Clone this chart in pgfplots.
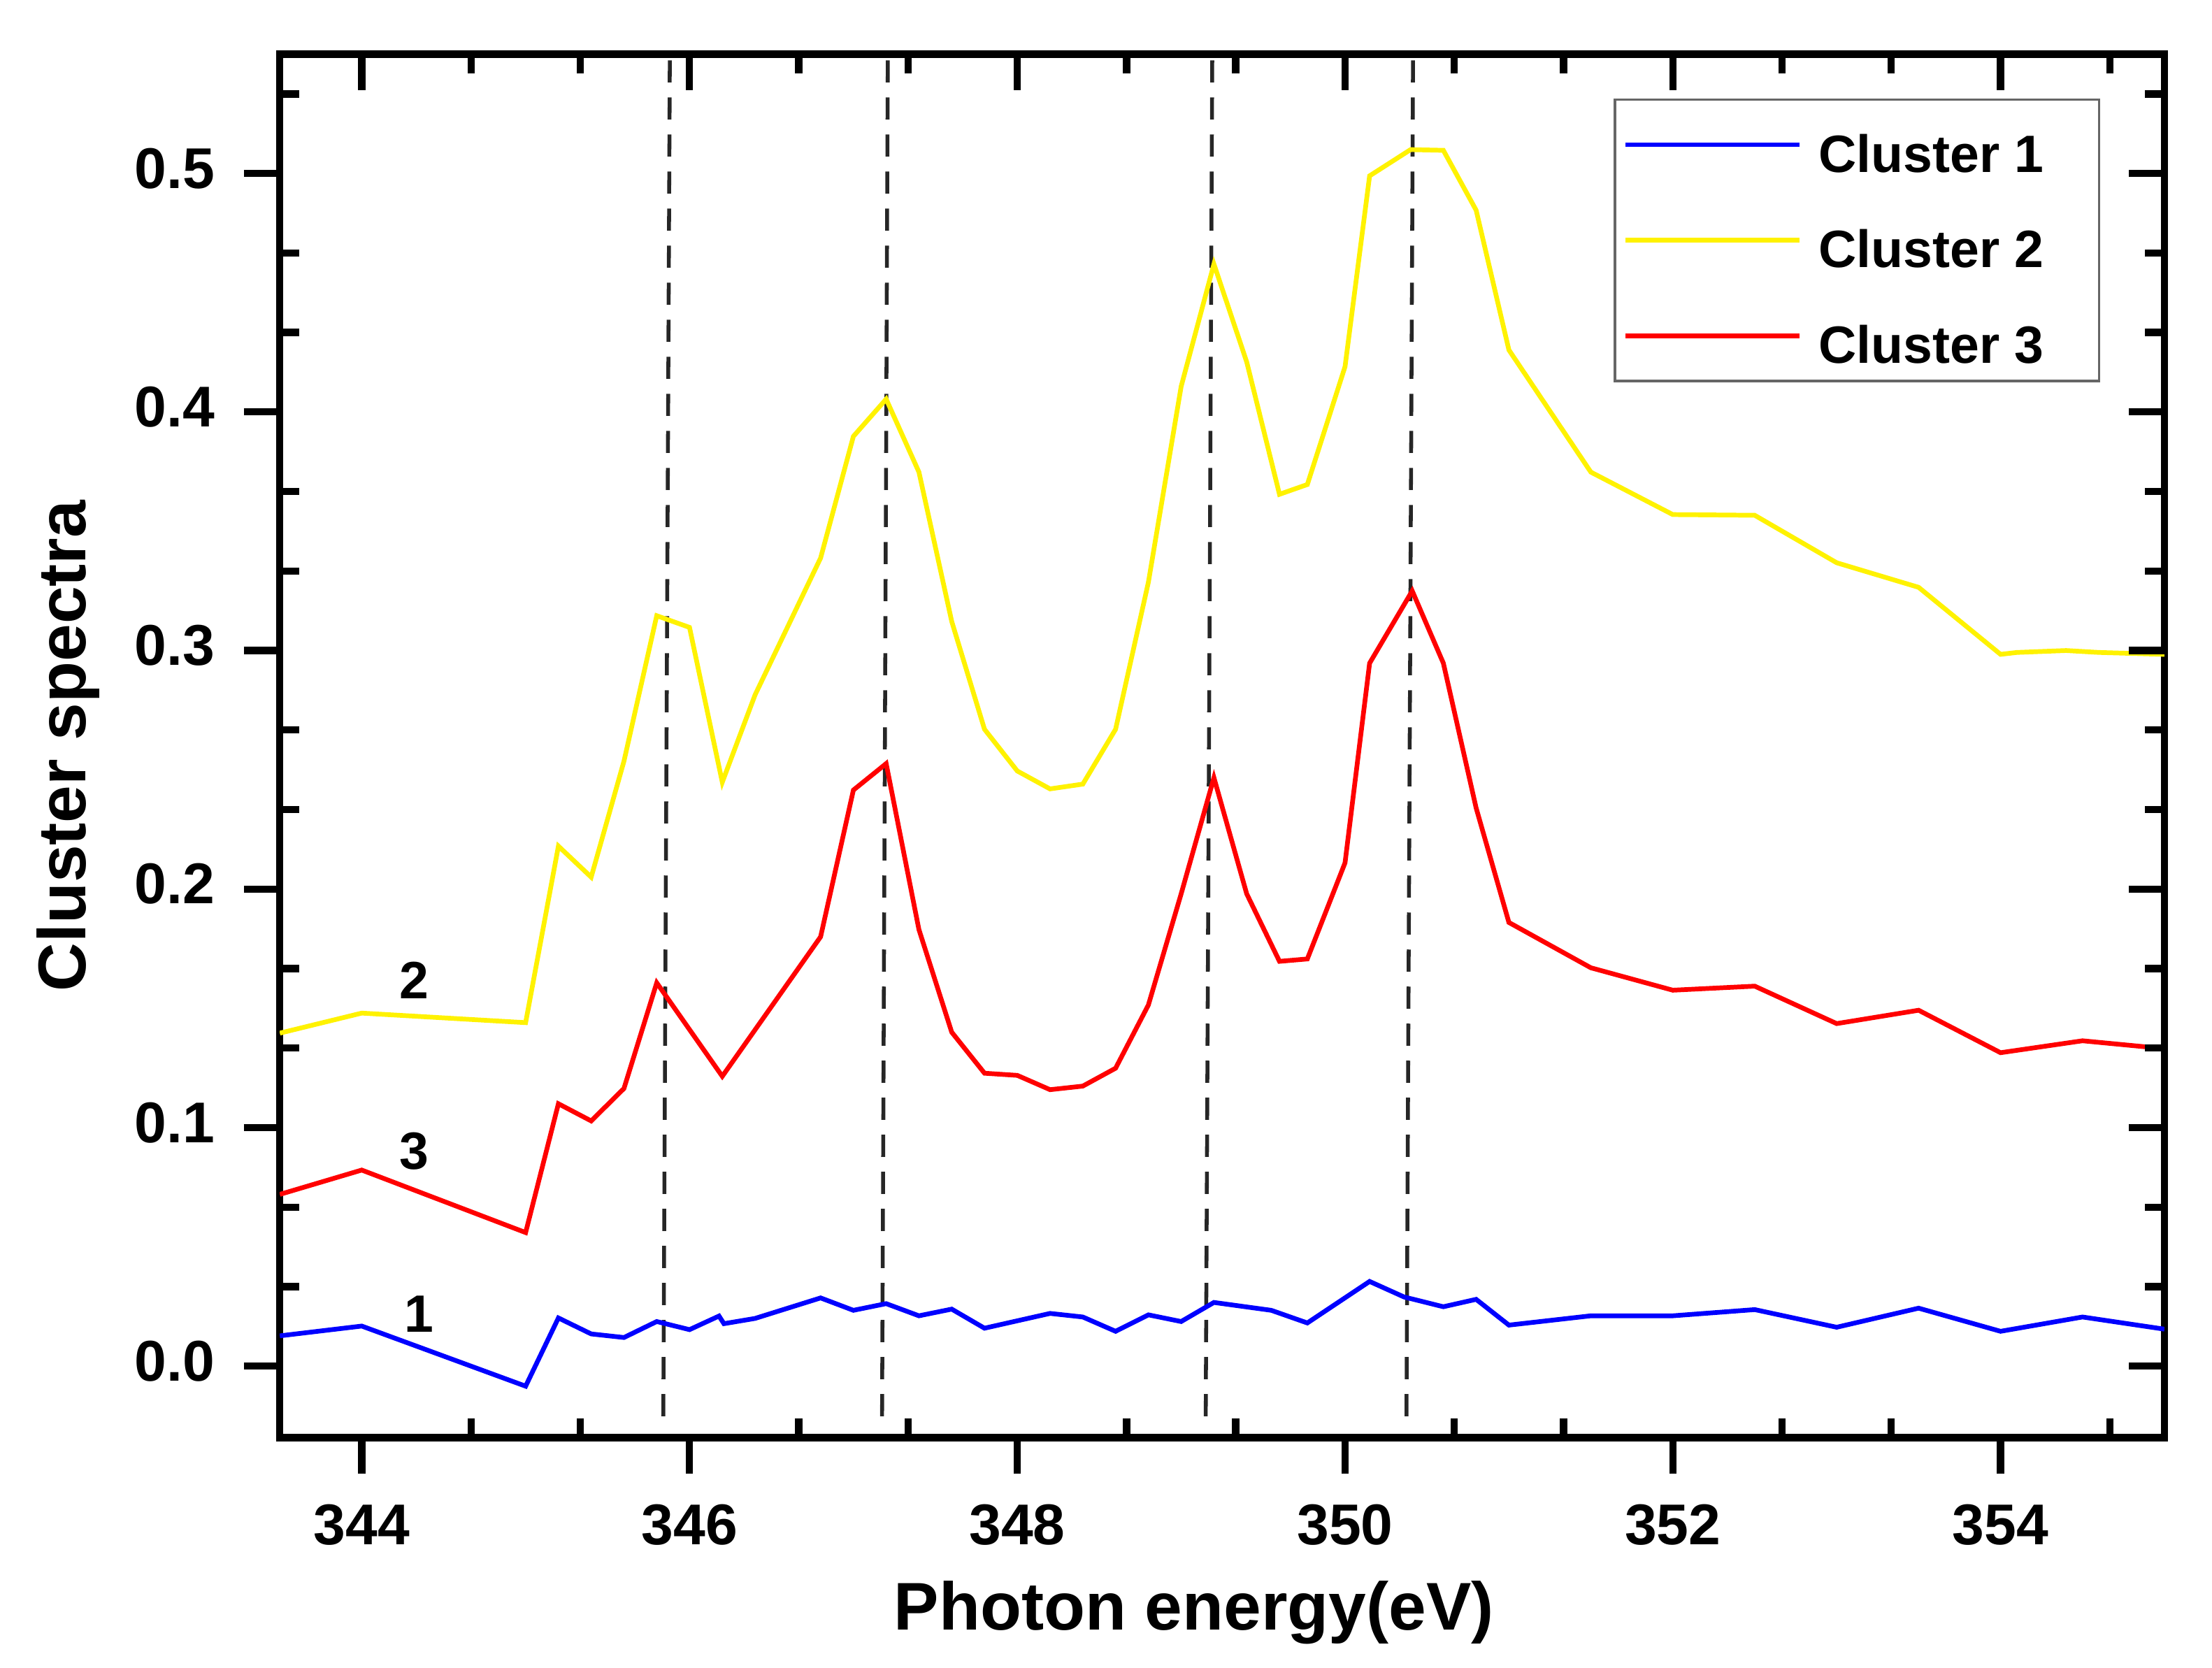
\documentclass[border=0pt]{standalone}
\usepackage{fontspec}
\setmainfont{Liberation Sans}
\usepackage{pgfplots}
\pgfplotsset{compat=1.18}

\pgfplotstableread{
x y
343.5 0.0127
344.0 0.0168
345.0 -0.0084
345.2 0.0202
345.4 0.0135
345.6 0.0120
345.8 0.0187
346.0 0.0153
346.18 0.0210
346.21 0.0178
346.4 0.0200
346.8 0.0286
347.0 0.0234
347.2 0.0262
347.4 0.0211
347.6 0.0239
347.8 0.0159
348.2 0.0221
348.4 0.0206
348.6 0.0146
348.8 0.0215
349.0 0.0187
349.2 0.0267
349.55 0.0234
349.77 0.0181
350.15 0.0355
350.36 0.0290
350.6 0.0249
350.8 0.0280
351.0 0.0172
351.5 0.0211
352.0 0.0211
352.5 0.0237
353.0 0.0163
353.5 0.0243
354.0 0.0146
354.5 0.0206
355.0 0.0155
}\clusterone

\pgfplotstableread{
x y
343.5 0.1396
344.0 0.1480
345.0 0.1440
345.2 0.2180
345.4 0.2050
345.6 0.2536
345.8 0.3146
346.0 0.3097
346.2 0.2448
346.4 0.2814
346.8 0.3388
347.0 0.3898
347.2 0.4054
347.4 0.3748
347.6 0.3122
347.8 0.2670
348.0 0.2495
348.2 0.2420
348.4 0.2440
348.6 0.2670
348.8 0.3286
349.0 0.4107
349.2 0.4620
349.4 0.4210
349.6 0.3655
349.77 0.3696
350.0 0.4190
350.15 0.4990
350.4 0.5100
350.6 0.5097
350.8 0.4846
351.0 0.4260
351.5 0.3748
352.0 0.3570
352.5 0.3567
353.0 0.3368
353.5 0.3265
354.0 0.2984
354.1 0.2992
354.4 0.3000
354.6 0.2992
355.0 0.2984
}\clustertwo

\pgfplotstableread{
x y
343.5 0.0720
344.0 0.0822
345.0 0.0560
345.2 0.1100
345.4 0.1028
345.6 0.1164
345.8 0.1607
346.2 0.1215
346.8 0.1800
347.0 0.2415
347.2 0.2526
347.4 0.1830
347.6 0.1400
347.8 0.1228
348.0 0.1219
348.2 0.1159
348.4 0.1174
348.6 0.1249
348.8 0.1514
349.0 0.1980
349.2 0.2467
349.4 0.1980
349.6 0.1697
349.77 0.1707
350.0 0.2110
350.15 0.2947
350.41 0.3250
350.6 0.2947
350.8 0.2340
351.0 0.1860
351.5 0.1670
352.0 0.1576
352.5 0.1593
353.0 0.1436
353.5 0.1492
354.0 0.1314
354.5 0.1364
355.0 0.1331
}\clusterthree

\pgfplotsset{
  base/.style={
    scale only axis, width=340.8pt, height=250.2pt,
    at={(0,0)}, anchor=south west,
    xmin=343.5, xmax=355, ymin=-0.03, ymax=0.55,
    xtick={344,346,348,350,352,354},
    ytick={0,0.1,0.2,0.3,0.4,0.5},
    minor xtick={344.6667,345.3333,346.6667,347.3333,348.6667,349.3333,350.6667,351.3333,352.6667,353.3333,354.6667},
    minor ytick={0.03333,0.06667,0.13333,0.16667,0.23333,0.26667,0.33333,0.36667,0.43333,0.46667,0.53333},
    axis line style={line width=1.3pt},
    tick style={line width=1.3pt, black},
  },
  overlay/.style={base, xticklabels={}, yticklabels={}, axis line style={draw=none}},
}

\begin{document}
\begin{tikzpicture}
\useasboundingbox (-50.6pt,-41.6pt) rectangle (349.4pt,260.0pt);
\begin{axis}[base,
  tick pos=left, tick align=inside,
  major tick length=0pt, minor tick length=3.5pt,
  tick label style={font=\fontsize{10.4}{12}\selectfont\bfseries},
  /pgf/number format/assume math mode=true,
  xticklabel style={anchor=base, inner sep=0pt, yshift=-19.3pt},
  yticklabel style={anchor=east, inner sep=0pt, xshift=-11.6pt, yshift=0.9pt,
    /pgf/number format/fixed, /pgf/number format/fixed zerofill, /pgf/number format/precision=1},
  xlabel={Photon energy(eV)},
  ylabel={Cluster spectra},
  xlabel style={font=\fontsize{12.2}{14}\selectfont\bfseries, at={(axis description cs:0.485,-0.1391)}, anchor=base},
  ylabel style={font=\fontsize{12.2}{14}\selectfont\bfseries, at={(axis description cs:-0.103,0.5)}, anchor=base, rotate=0},
  legend style={at={(axis description cs:0.9658,0.968)}, anchor=north east,
    draw=black!60, line width=0.4pt, fill=white,
    inner xsep=1.5pt, inner ysep=3.2pt, row sep=7.4pt, column sep=3pt,
    font=\fontsize{9.5}{11}\selectfont\bfseries,
    nodes={inner sep=0pt, text height=9.9pt, text depth=0pt}},
  legend cell align=left,
  legend image code/.code={\draw[#1] (0pt,0pt) -- (31.5pt,0pt);},
]
\addplot[black!85, line width=0.7pt, dash pattern=on 4pt off 2.7pt, forget plot] coordinates {(345.84,-0.021) (345.88,0.55)};
\addplot[black!85, line width=0.7pt, dash pattern=on 4pt off 2.7pt, forget plot] coordinates {(347.175,-0.021) (347.21,0.55)};
\addplot[black!85, line width=0.7pt, dash pattern=on 4pt off 2.7pt, forget plot] coordinates {(349.15,-0.021) (349.19,0.55)};
\addplot[black!85, line width=0.7pt, dash pattern=on 4pt off 2.7pt, forget plot] coordinates {(350.375,-0.021) (350.415,0.55)};

\addplot[blue, line width=0.85pt, mark=none] table[x=x,y=y] {\clusterone};
\addlegendentry{Cluster 1\hspace*{8.5pt}}
\addplot[yellow, line width=0.85pt, mark=none] table[x=x,y=y] {\clustertwo};
\addlegendentry{Cluster 2\hspace*{8.5pt}}
\addplot[red, line width=0.85pt, mark=none] table[x=x,y=y] {\clusterthree};
\addlegendentry{Cluster 3\hspace*{8.5pt}}

\node[font=\fontsize{9.5}{11}\selectfont\bfseries, inner sep=0pt, text height=6.8pt, text depth=0pt] at (axis cs:344.32,0.162) {2};
\node[font=\fontsize{9.5}{11}\selectfont\bfseries, inner sep=0pt, text height=6.8pt, text depth=0pt] at (axis cs:344.32,0.0903) {3};
\node[font=\fontsize{9.5}{11}\selectfont\bfseries, inner sep=0pt, text height=6.8pt, text depth=0pt] at (axis cs:344.35,0.0222) {1};
\end{axis}

\begin{axis}[overlay, tick pos=left, tick align=outside,
  major tick length=6.5pt, minor tick length=0pt]
\addplot[draw=none, forget plot] coordinates {(344,0)};
\end{axis}

\begin{axis}[overlay, tick pos=right, tick align=inside,
  major tick length=6.5pt, minor tick length=3.5pt]
\addplot[draw=none, forget plot] coordinates {(344,0)};
\end{axis}
\end{tikzpicture}
\end{document}
